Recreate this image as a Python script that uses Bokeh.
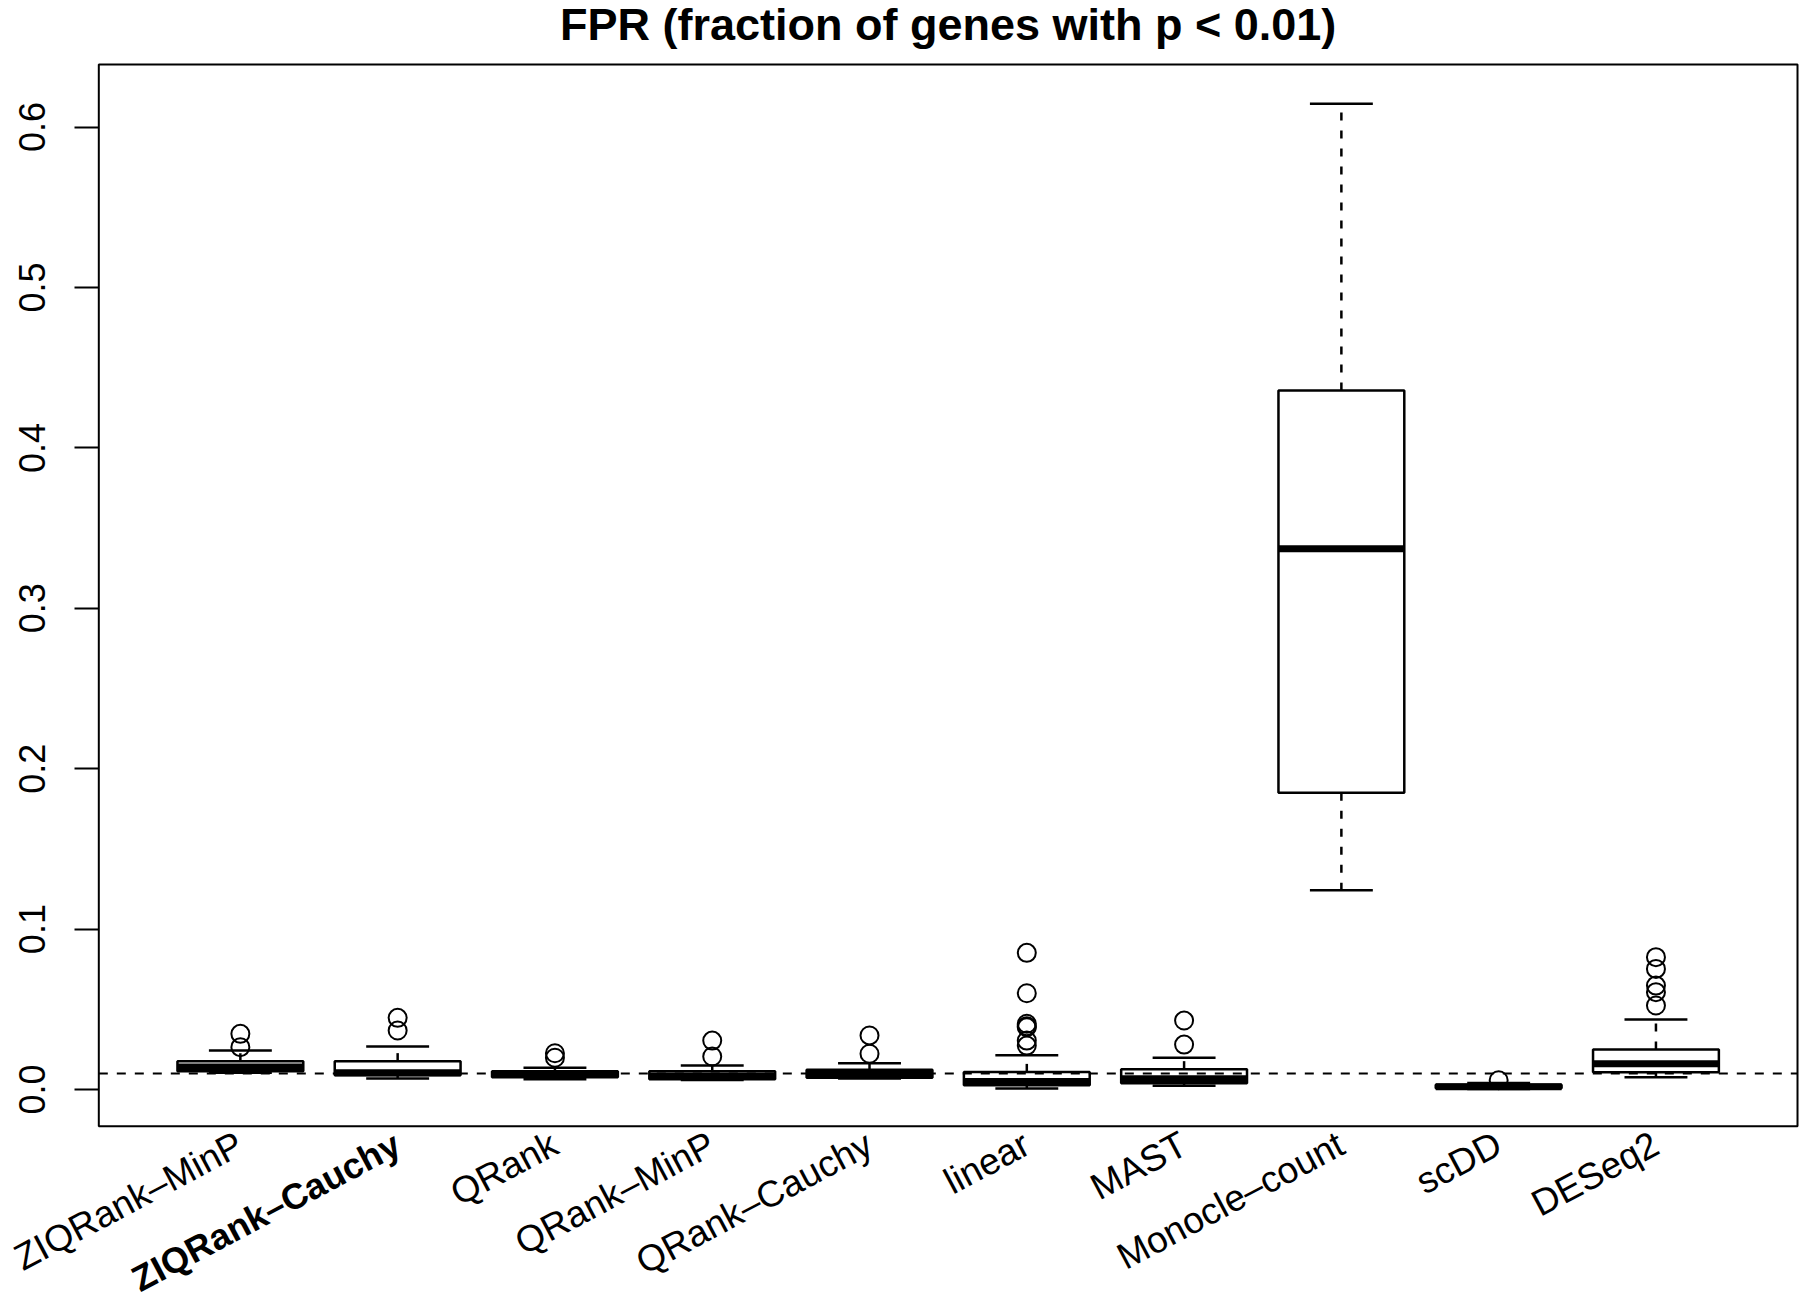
import math
import numpy as np
from bokeh.plotting import figure
from bokeh.models import FixedTicker, Range1d, NumeralTickFormatter, LinearAxis
from bokeh.core.properties import value
from bokeh.embed import file_html
from bokeh.resources import INLINE

# ---- data ----
methods = ["ZIQRank–MinP", "ZIQRank–Cauchy", "QRank", "QRank–MinP", "QRank–Cauchy",
           "linear", "MAST", "Monocle–count", "scDD", "DESeq2"]
bold_method = "ZIQRank–Cauchy"
lower_whisker = [0.0104, 0.0069, 0.0064, 0.0060, 0.0069, 0.0006, 0.0023, 0.1243, 0.0004, 0.0077]
q1 =            [0.0114, 0.0089, 0.0077, 0.0064, 0.0073, 0.0027, 0.0039, 0.1850, 0.0008, 0.0108]
median =        [0.0140, 0.0105, 0.0093, 0.0085, 0.0097, 0.0050, 0.0067, 0.3371, 0.0018, 0.0160]
q3 =            [0.0177, 0.0177, 0.0114, 0.0114, 0.0123, 0.0110, 0.0127, 0.4358, 0.0030, 0.0249]
upper_whisker = [0.0243, 0.0268, 0.0135, 0.0150, 0.0164, 0.0214, 0.0198, 0.6145, 0.0040, 0.0436]
outliers = [
    [0.0347, 0.0264],
    [0.0447, 0.0368],
    [0.0226, 0.0198],
    [0.0305, 0.0206],
    [0.0337, 0.0223],
    [0.0852, 0.0600, 0.0410, 0.0395, 0.0388, 0.0305, 0.0274],
    [0.0430, 0.0280],
    [],
    [0.0058],
    [0.0825, 0.0752, 0.0648, 0.0607, 0.0524],
]
reference_level = 0.01
y_ticks = [0.0, 0.1, 0.2, 0.3, 0.4, 0.5, 0.6]
title_text = "FPR (fraction of genes with p < 0.01)"

# plotting region of the original (R-style) box: x 0.1..10.9, y -0.0229..0.639
box_x = (0.1, 10.9)
box_y = (-0.0229, 0.639)

FONT = "Liberation Sans"
pos = np.arange(1, len(methods) + 1, dtype=float)
box_half = 0.4
staple_half = 0.2
label_angle = math.radians(28)

p = figure(width=1800, height=1299, output_backend="svg", toolbar_location=None,
           x_range=Range1d(-0.525, 10.919), y_range=Range1d(-0.1309, 0.6789),
           x_axis_location=None, y_axis_location=None, title=None,
           min_border_left=0, min_border_right=0, min_border_top=0, min_border_bottom=0)
p.grid.visible = False
p.outline_line_color = None
p.background_fill_color = "white"
p.border_fill_color = "white"

# frame box around the plotting region
p.quad(left=[box_x[0]], right=[box_x[1]], bottom=[box_y[0]], top=[box_y[1]],
       fill_color=None, line_color="black", line_width=2)

# whiskers (dashed)
p.segment(x0=pos, y0=np.array(q3), x1=pos, y1=np.array(upper_whisker),
          line_color="black", line_width=2.5, line_dash="8 10")
p.segment(x0=pos, y0=np.array(q1), x1=pos, y1=np.array(lower_whisker),
          line_color="black", line_width=2.5, line_dash="8 10")
# staples
p.segment(x0=pos - staple_half, y0=np.array(upper_whisker), x1=pos + staple_half,
          y1=np.array(upper_whisker), line_color="black", line_width=2.5)
p.segment(x0=pos - staple_half, y0=np.array(lower_whisker), x1=pos + staple_half,
          y1=np.array(lower_whisker), line_color="black", line_width=2.5)
# boxes
p.quad(left=pos - box_half, right=pos + box_half, bottom=np.array(q1), top=np.array(q3),
       fill_color="white", line_color="black", line_width=2.5)
# medians
p.segment(x0=pos - box_half, y0=np.array(median), x1=pos + box_half, y1=np.array(median),
          line_color="black", line_width=7, line_cap="butt")
# outliers
ox = [pos[i] for i, vals in enumerate(outliers) for _ in vals]
oy = [v for vals in outliers for v in vals]
p.scatter(x=ox, y=oy, marker="circle", size=18, fill_color=None,
          line_color="black", line_width=2)

# reference line at p = 0.01
p.segment(x0=[box_x[0]], y0=[reference_level], x1=[box_x[1]], y1=[reference_level],
          line_color="black", line_width=2, line_dash="9 9")

# y axis, pinned to the left edge of the box
ax = LinearAxis(fixed_location=box_x[0])
ax.ticker = FixedTicker(ticks=y_ticks)
ax.formatter = NumeralTickFormatter(format="0.0")
ax.minor_tick_line_color = None
ax.axis_line_color = None
ax.major_tick_in = 0
ax.major_tick_out = 24
ax.major_tick_line_width = 2
ax.major_tick_line_color = "black"
ax.major_label_orientation = "vertical"
ax.major_label_standoff = 30
ax.major_label_text_font = FONT
ax.major_label_text_font_size = "36px"
ax.major_label_text_color = "black"
p.add_layout(ax, "left")

# category labels, rotated below the box
normal_idx = [i for i, m in enumerate(methods) if m != bold_method]
bold_idx = [i for i, m in enumerate(methods) if m == bold_method]
label_y = box_y[0] - 0.0095
p.text(x=[pos[i] for i in normal_idx], y=[label_y] * len(normal_idx),
       text=[methods[i] for i in normal_idx], angle=label_angle,
       text_align="right", text_baseline="middle", text_font=value(FONT),
       text_font_size="37px", text_color="black")
p.text(x=[pos[i] for i in bold_idx], y=[label_y] * len(bold_idx),
       text=[methods[i] for i in bold_idx], angle=label_angle,
       text_align="right", text_baseline="middle", text_font=value(FONT),
       text_font_size="36px", text_font_style="bold", text_color="black")

# title
p.text(x=[(box_x[0] + box_x[1]) / 2], y=[0.664], text=[title_text],
       text_align="center", text_baseline="alphabetic", text_font=value(FONT),
       text_font_size="45px", text_font_style="bold", text_color="black")

open("out.html", "w").write(file_html(p, INLINE))
